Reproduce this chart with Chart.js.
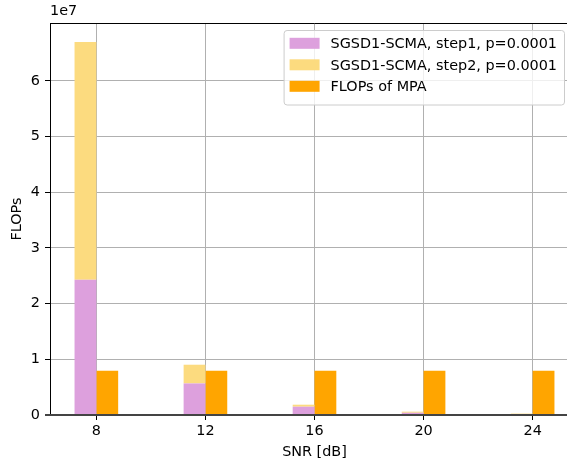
<!DOCTYPE html>
<html>
<head>
<meta charset="utf-8">
<script src="https://cdn.jsdelivr.net/npm/chart.js@4.4.1/dist/chart.umd.min.js"></script>
<style>
  html, body { margin: 0; padding: 0; background: #fff; overflow: hidden; }
  #wrap { width: 567px; height: 461px; overflow: hidden; }
</style>
</head>
<body>
<div id="wrap"><canvas id="flops" width="579" height="461"></canvas></div>
<script>
/* ==========================
   DATA
========================== */
const snr = [8, 12, 16, 20, 24];
const step1Flops = [2.43e7, 5.67e6, 1.49e6, 4.0e5, 5.0e4];
const step2Flops = [4.27e7, 3.36e6, 3.6e5, 2.0e5, 2.0e5];
const mpaFlops = [7.95e6, 7.95e6, 7.95e6, 7.95e6, 7.95e6];
const yTicks = [0, 1e7, 2e7, 3e7, 4e7, 5e7, 6e7];

const FONT = "'DejaVu Sans', sans-serif";
const FSIZE = 14.4;

function points(values) {
    return snr.map((x, i) => ({ x: x, y: values[i] }));
}

/* ==========================
   PLUGINS
========================== */
// dark zero line, top spine and the 1e7 offset text
const framePlugin = {
    id: "frame",
    afterDraw(chart) {
        const { ctx, chartArea } = chart;
        const y0 = chart.scales.y.getPixelForValue(0);
        ctx.save();
        ctx.strokeStyle = "#000";
        ctx.lineWidth = 1;
        ctx.beginPath();
        ctx.moveTo(chartArea.left, chartArea.top + 0.5);
        ctx.lineTo(chartArea.right, chartArea.top + 0.5);
        ctx.stroke();

        ctx.strokeStyle = "#444";
        ctx.lineWidth = 2;
        ctx.beginPath();
        ctx.moveTo(chartArea.left - 5, y0);
        ctx.lineTo(chartArea.right, y0);
        ctx.stroke();

        ctx.fillStyle = "#000";
        ctx.font = FSIZE + "px " + FONT;
        ctx.textAlign = "left";
        ctx.textBaseline = "bottom";
        ctx.fillText("1e7", chartArea.left, chartArea.top - 5);
        ctx.restore();
    }
};

// legend box in the upper right corner of the plot
const legendPlugin = {
    id: "boxLegend",
    afterDraw(chart) {
        const { ctx, chartArea } = chart;
        const sets = chart.data.datasets;
        ctx.save();
        ctx.font = FSIZE + "px " + FONT;
        const textW = Math.max(...sets.map(d => ctx.measureText(d.label).width));
        const pad = 6, patchW = 30, patchH = 11, gap = 11, rowH = 21.5;
        const w = pad + patchW + gap + textW + 7;
        const h = pad + rowH * sets.length + 4;
        const x = chartArea.right - 15 - w;
        const y = chartArea.top + 7.5;

        ctx.beginPath();
        ctx.roundRect(x + 0.5, y, w, h, 3);
        ctx.fillStyle = "rgba(255,255,255,0.8)";
        ctx.fill();
        ctx.strokeStyle = "#cccccc";
        ctx.lineWidth = 1;
        ctx.stroke();

        ctx.textAlign = "left";
        ctx.textBaseline = "middle";
        sets.forEach((d, i) => {
            const cy = y + 12.8 + i * rowH;
            ctx.fillStyle = d.backgroundColor;
            ctx.fillRect(x + pad, cy - patchH / 2, patchW, patchH);
            ctx.fillStyle = "#000";
            ctx.fillText(d.label, x + pad + patchW + gap, cy + 1);
        });
        ctx.restore();
    }
};

/* ==========================
   CHART
========================== */
new Chart(document.getElementById("flops"), {
    type: "bar",
    data: {
        datasets: [
            {
                label: "SGSD1-SCMA, step1, p=0.0001",
                data: points(step1Flops),
                backgroundColor: "#dda0dd",
                stack: "sgsd"
            },
            {
                label: "SGSD1-SCMA, step2, p=0.0001",
                data: points(step2Flops),
                backgroundColor: "#fcdb7f",
                stack: "sgsd"
            },
            {
                label: "FLOPs of MPA",
                data: points(mpaFlops),
                backgroundColor: "#ffa500",
                stack: "mpa"
            }
        ]
    },
    options: {
        responsive: false,
        animation: false,
        categoryPercentage: 0.4,
        barPercentage: 1.0,
        borderWidth: 0,
        layout: { padding: { top: 23, left: 0, right: 0, bottom: 0 } },
        plugins: {
            legend: { display: false },
            tooltip: { enabled: false }
        },
        scales: {
            x: {
                type: "linear",
                min: 6.3,
                max: 25.7,
                offset: false,
                z: 1,
                afterBuildTicks: axis => { axis.ticks = snr.map(v => ({ value: v })); },
                afterFit: axis => { axis.height = 46; },
                grid: { offset: false, color: "#b0b0b0", lineWidth: 1, tickLength: 5, tickColor: "#000" },
                border: { display: false },
                ticks: {
                    color: "#000",
                    padding: 3,
                    maxRotation: 0,
                    font: { family: FONT, size: FSIZE }
                },
                title: {
                    display: true,
                    text: "SNR [dB]",
                    color: "#000",
                    padding: { top: 0, bottom: 0 },
                    font: { family: FONT, size: FSIZE }
                }
            },
            y: {
                stacked: true,
                min: 0,
                max: 7.04e7,
                z: 1,
                afterBuildTicks: axis => { axis.ticks = yTicks.map(v => ({ value: v })); },
                afterFit: axis => { axis.width = 50; },
                grid: { color: "#b0b0b0", lineWidth: 1, tickLength: 5, tickColor: "#000" },
                border: { display: true, color: "#000", width: 1 },
                ticks: {
                    color: "#000",
                    padding: 5,
                    font: { family: FONT, size: FSIZE },
                    callback: v => String(Math.round(v / 1e7))
                },
                title: {
                    display: true,
                    text: "FLOPs",
                    color: "#000",
                    padding: { top: 9, bottom: 0 },
                    font: { family: FONT, size: FSIZE }
                }
            }
        }
    },
    plugins: [framePlugin, legendPlugin]
});
</script>
</body>
</html>
